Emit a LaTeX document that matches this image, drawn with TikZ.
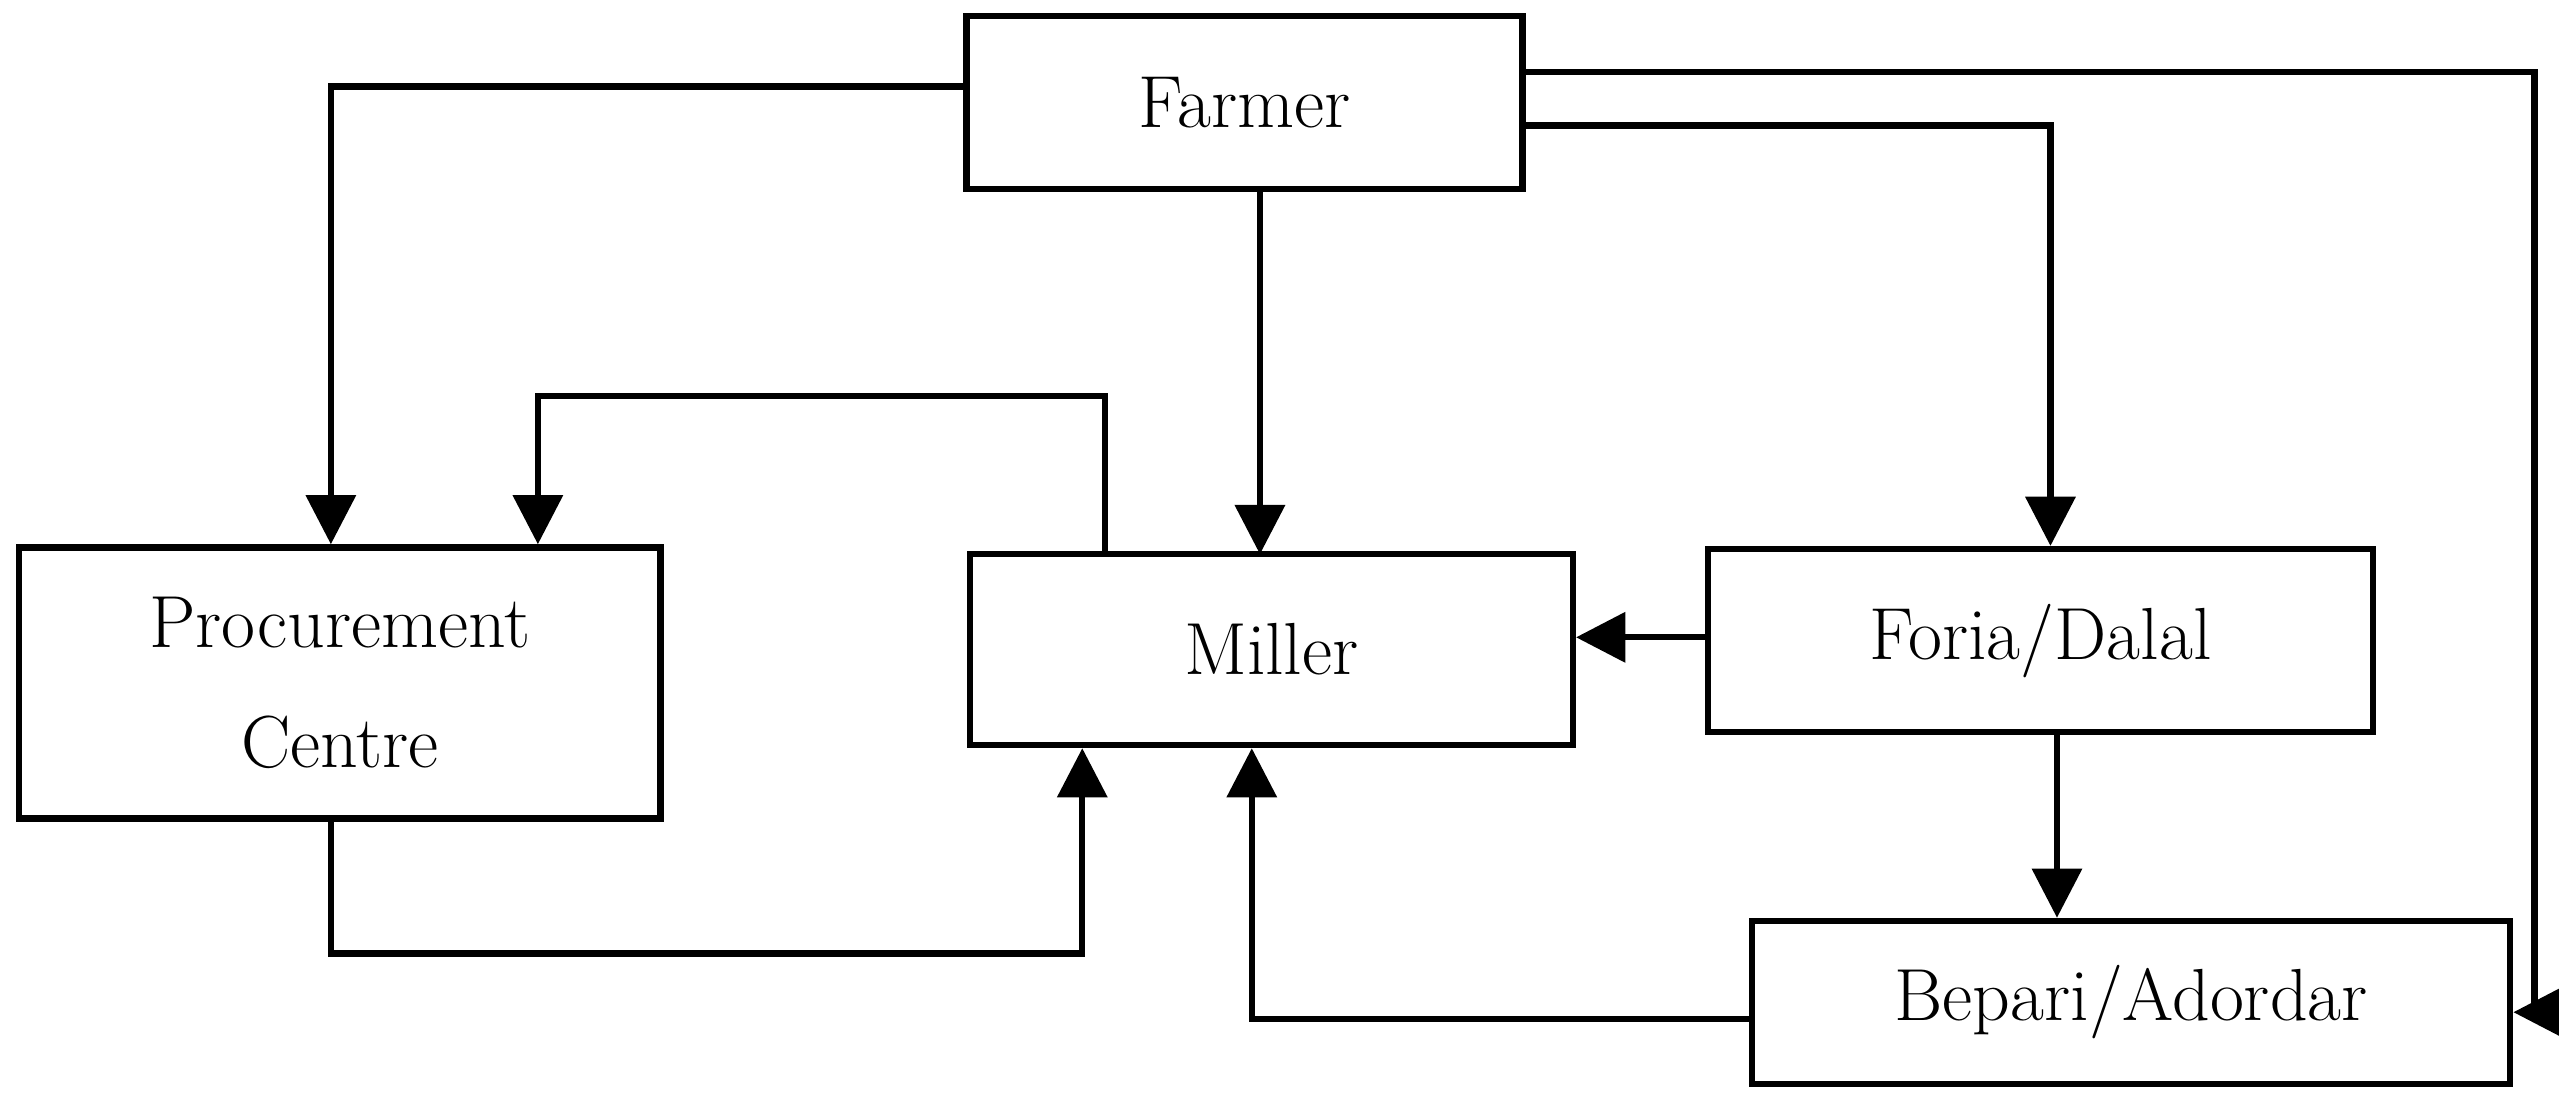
\documentclass[tikz,border=0pt]{standalone}
\usetikzlibrary{arrows.meta}
\begin{document}
\begin{tikzpicture}[x=0.0163cm,y=-0.0163cm,
  box/.style={draw,line width=1.8pt,inner sep=0pt,align=center,font=\fontsize{21}{34}\selectfont},
  ln/.style={line width=1.8pt,-{Triangle[length=14pt,width=14pt]}}]
\useasboundingbox (0,0) rectangle (1570,681);
\node[box,minimum width=5.56cm,minimum height=1.73cm] (farmer) at (763.5,63) {Farmer};
\node[box,minimum width=6.41cm,minimum height=2.71cm] (proc) at (208.5,419) {Procurement\\Centre};
\node[box,minimum width=6.03cm,minimum height=1.91cm] (miller) at (780,398.5) {Miller};
\node[box,minimum width=6.65cm,minimum height=1.83cm] (foria) at (1252,393) {Foria/Dalal};
\node[box,minimum width=7.58cm,minimum height=1.63cm] (bepari) at (1307.5,615) {Bepari/Adordar};
\coordinate (a1) at (203,53);
\coordinate (a2) at (678,243);
\coordinate (a3) at (330,243);
\coordinate (a4) at (1258,77);
\coordinate (a5) at (1555,44);
\coordinate (a6) at (1555,621);
\coordinate (a7) at (203,585);
\coordinate (a8) at (664,585);
\coordinate (a9) at (768,625);
\draw[ln] (farmer.west |- a1) -- (a1) -- (a1 |- proc.north);
\draw[ln] (a2 |- miller.north) -- (a2) -- (a3) -- (a3 |- proc.north);
\draw[ln] (farmer.south -| 773,0) -- (773,340);
\draw[ln] (farmer.east |- a4) -- (a4) -- (a4 |- foria.north);
\draw[ln] (farmer.east |- a5) -- (a5) -- (a6) -- (bepari.east |- a6);
\draw[ln] (foria.west |- 0,391) -- (miller.east |- 0,391);
\draw[ln] (foria.south -| 1262,0) -- (bepari.north -| 1262,0);
\draw[ln] (a7 |- proc.south) -- (a7) -- (a8) -- (a8 |- miller.south);
\draw[ln] (bepari.west |- a9) -- (a9) -- (a9 |- miller.south);
\end{tikzpicture}
\end{document}
